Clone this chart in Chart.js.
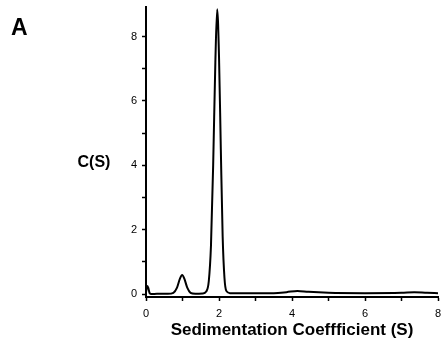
<!DOCTYPE html>
<html>
<head>
<meta charset="utf-8">
<script src="https://cdn.jsdelivr.net/npm/chart.js@4.4.1/dist/chart.umd.min.js"></script>
<style>
  html, body { margin: 0; padding: 0; background: #fff; }
  #wrap { width: 441px; height: 344px; position: relative; }
</style>
</head>
<body>
<div id="wrap"><canvas id="SedChart" width="441" height="344"></canvas></div>
<script>
// sedimentation coefficient distribution
const sValues = [0, 0.03, 0.06, 0.1, 0.15, 0.3, 0.6, 0.75, 0.85, 0.93, 0.99, 1.05, 1.13, 1.22, 1.35,
    1.55, 1.65, 1.72, 1.78, 1.84, 1.9, 1.95, 2.0, 2.05, 2.1, 2.15, 2.2, 2.3, 2.6, 3.0, 3.5,
    3.85, 4.15, 4.45, 5.0, 6.0, 7.0, 7.35, 7.7, 8.0];
const cValues = [0.05, 0.25, 0.2, 0.03, 0.0, 0.01, 0.01, 0.04, 0.2, 0.48, 0.59, 0.48, 0.2, 0.04, 0.01,
    0.02, 0.08, 0.4, 1.5, 4.0, 7.2, 8.85, 7.4, 4.5, 1.8, 0.5, 0.1, 0.03, 0.03, 0.03, 0.03,
    0.06, 0.1, 0.07, 0.04, 0.03, 0.04, 0.06, 0.04, 0.03];
const tickValues = [0, 1, 2, 3, 4, 5, 6, 7, 8];
const majorTicks = [0, 2, 4, 6, 8];

const points = sValues.map((s, i) => ({ x: s, y: cValues[i] }));

// horizontal y title and panel letter
const extraText = {
    id: "extraText",
    afterDraw(chart) {
        const ctx = chart.ctx;
        ctx.save();
        ctx.fillStyle = "#000";
        ctx.textAlign = "center";
        ctx.textBaseline = "middle";
        ctx.font = "bold 16px 'Liberation Sans', Arial, sans-serif";
        ctx.fillText("C(S)", 94, 163);
        ctx.textAlign = "left";
        ctx.font = "bold 23px 'Liberation Sans', Arial, sans-serif";
        ctx.fillText("A", 11, 29);
        ctx.restore();
    }
};

const tickLabel = (v) => majorTicks.includes(v) ? String(v) : "";
const fixedTicks = (scale) => { scale.ticks = tickValues.map(v => ({ value: v })); };

new Chart(document.getElementById("SedChart").getContext("2d"), {
    type: "line",
    data: {
        datasets: [
            {
                data: points,
                borderColor: "#000",
                borderWidth: 2,
                pointRadius: 0,
                fill: false,
                cubicInterpolationMode: "monotone"
            }
        ]
    },
    options: {
        responsive: false,
        animation: false,
        layout: { padding: { top: 7, right: 3, left: 0, bottom: 0 } },
        plugins: {
            legend: { display: false },
            tooltip: { enabled: false }
        },
        scales: {
            x: {
                type: "linear",
                min: 0,
                max: 8,
                border: { color: "#000", width: 2 },
                grid: { drawOnChartArea: false, tickLength: 4, tickColor: "#000", tickWidth: 1.5 },
                ticks: {
                    autoSkip: false,
                    maxRotation: 0,
                    padding: 6,
                    color: "#000",
                    font: { size: 11, family: "'Liberation Sans', Arial, sans-serif" },
                    callback: tickLabel
                },
                afterBuildTicks: fixedTicks,
                title: {
                    display: true,
                    text: "Sedimentation Coeffficient (S)",
                    color: "#000",
                    font: { size: 17, weight: "bold", family: "'Liberation Sans', Arial, sans-serif" },
                    padding: { top: 0, bottom: 3 }
                },
                afterFit(scale) {
                    scale.height = 47;
                    scale.paddingLeft = 0;
                    scale.paddingRight = 0;
                }
            },
            y: {
                min: -0.09,
                max: 8.92,
                border: { color: "#000", width: 2 },
                grid: { drawOnChartArea: false, tickLength: 4, tickColor: "#000", tickWidth: 1.5 },
                ticks: {
                    autoSkip: false,
                    padding: 5,
                    color: "#000",
                    font: { size: 11, family: "'Liberation Sans', Arial, sans-serif" },
                    callback: tickLabel
                },
                afterBuildTicks: fixedTicks,
                afterFit(scale) {
                    scale.width = 146;
                    scale.paddingTop = 0;
                    scale.paddingBottom = 0;
                }
            }
        }
    },
    plugins: [extraText]
});
</script>
</body>
</html>
